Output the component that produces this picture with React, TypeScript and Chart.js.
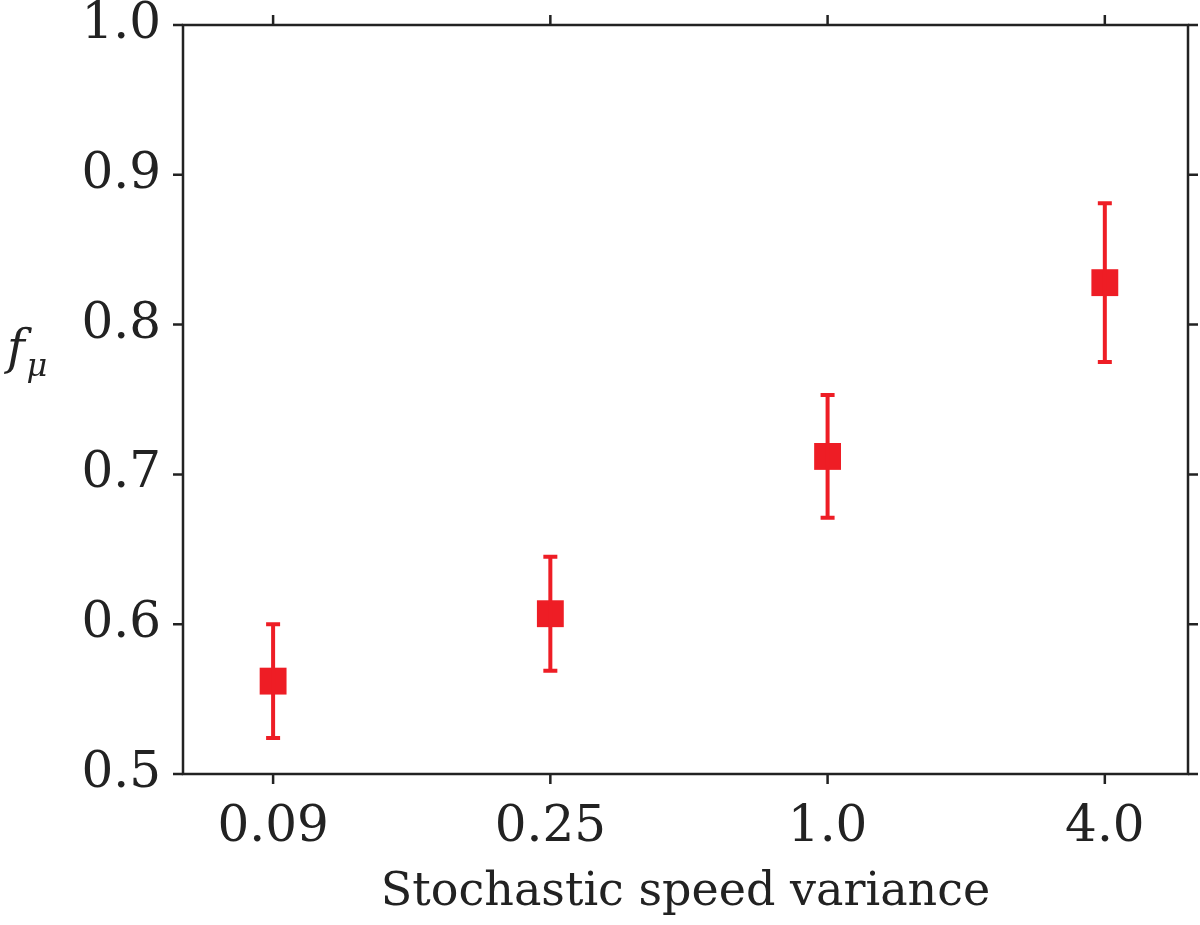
import React, { useEffect, useRef } from "react";
import Chart from "chart.js/auto";

const categories = ["0.09", "0.25", "1.0", "4.0"];
const means = [0.562, 0.607, 0.712, 0.828];
const lower = [0.524, 0.569, 0.671, 0.775];
const upper = [0.600, 0.645, 0.753, 0.881];
const yTicks = [0.5, 0.6, 0.7, 0.8, 0.9, 1.0];
const RED = "#ee1d25";
const FONT = "'DejaVu Serif', 'Liberation Serif', serif";

export default function App() {
  const ref = useRef<HTMLCanvasElement>(null);
  useEffect(() => {
    document.body.style.margin = "0";
    const extras = {
      id: "extras",
      afterDatasetsDraw(chart: any) {
        const { ctx, scales, chartArea: a } = chart;
        const x = scales.x, y = scales.y;
        ctx.save();
        ctx.strokeStyle = RED;
        ctx.lineWidth = 4;
        means.forEach((_, i) => {
          const px = x.getPixelForValue(i);
          const y1 = y.getPixelForValue(lower[i]);
          const y2 = y.getPixelForValue(upper[i]);
          ctx.beginPath();
          ctx.moveTo(px, y1); ctx.lineTo(px, y2);
          ctx.moveTo(px - 7, y1); ctx.lineTo(px + 7, y1);
          ctx.moveTo(px - 7, y2); ctx.lineTo(px + 7, y2);
          ctx.stroke();
        });
        ctx.strokeStyle = "#222";
        ctx.lineWidth = 2.5;
        ctx.strokeRect(a.left, a.top, a.right - a.left, a.bottom - a.top);
        ctx.beginPath();
        yTicks.forEach((v) => {
          const py = y.getPixelForValue(v);
          ctx.moveTo(a.left, py); ctx.lineTo(a.left - 10, py);
          ctx.moveTo(a.right, py); ctx.lineTo(a.right + 10, py);
        });
        categories.forEach((_, i) => {
          const px = x.getPixelForValue(i);
          ctx.moveTo(px, a.top); ctx.lineTo(px, a.top - 10);
          ctx.moveTo(px, a.bottom); ctx.lineTo(px, a.bottom + 10);
        });
        ctx.stroke();
        ctx.fillStyle = "#222";
        ctx.textAlign = "center";
        ctx.textBaseline = "middle";
        ctx.font = `46px ${FONT}`;
        ctx.fillText("Stochastic speed variance", (a.left + a.right) / 2, 893);
        ctx.font = `italic 48px ${FONT}`;
        ctx.fillText("f", 16, 352);
        ctx.font = `italic 32px ${FONT}`;
        ctx.fillText("μ", 37, 368);
        ctx.restore();
      },
    };
    const chart = new Chart(ref.current!, {
      type: "scatter",
      data: {
        datasets: [{
          data: means.map((m, i) => ({ x: i, y: m })),
          pointStyle: "rect",
          pointRadius: 19,
          backgroundColor: RED,
          borderColor: RED,
          borderWidth: 0,
        }],
      },
      options: {
        animation: false,
        responsive: false,
        layout: { padding: { top: 0, right: 0, left: 0, bottom: 0 } },
        plugins: { legend: { display: false }, tooltip: { enabled: false } },
        scales: {
          x: {
            type: "linear", min: -0.325, max: 3.3,
            afterBuildTicks: (s: any) => { s.ticks = categories.map((_, i) => ({ value: i })); },
            afterFit: (s: any) => { s.height = 151; },
            grid: { display: false }, border: { display: false },
            ticks: { callback: (v: any) => categories[v], color: "#222", font: { family: FONT, size: 50 }, padding: 16, maxRotation: 0 },
          },
          y: {
            min: 0.5, max: 1.0,
            afterBuildTicks: (s: any) => { s.ticks = yTicks.map((v) => ({ value: v })); },
            afterFit: (s: any) => { s.width = 183; },
            grid: { display: false }, border: { display: false },
            ticks: { callback: (v: any) => Number(v).toFixed(1), color: "#222", font: { family: FONT, size: 50 }, padding: 14 },
          },
        },
      },
      plugins: [extras, {
        id: "fixArea",
        afterLayout(chart: any) {
          const a = chart.chartArea;
          a.top = 25; a.right = 1188; a.left = 183; a.bottom = 774;
          chart.scales.y.top = 25; chart.scales.y.bottom = 774; chart.scales.y.height = 749;
          chart.scales.x.left = 183; chart.scales.x.right = 1188; chart.scales.x.width = 1005;
          chart.scales.y.configure(); chart.scales.x.configure();
        },
      }],
    });
    return () => chart.destroy();
  }, []);
  return <canvas ref={ref} width={1200} height={925} style={{ display: "block" }} />;
}
